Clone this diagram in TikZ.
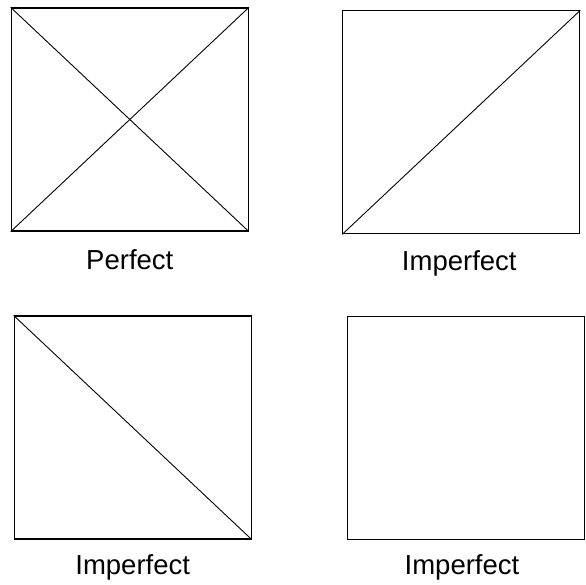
\documentclass[tikz,border=0pt]{standalone}
\usepackage{fontspec}
\setmainfont{Liberation Sans}
\usetikzlibrary{positioning}

\begin{document}
\begin{tikzpicture}[
    x=1pt, y=-1pt,
    sq/.style={draw, line width=1.2pt, inner sep=0pt, minimum width=237pt, minimum height=223pt},
    diag/.style={line width=0.9pt},
    lbl/.style={anchor=base, inner sep=0pt, font=\fontsize{27.5}{33}\selectfont}
]
\useasboundingbox (0,0) rectangle (586,585);
\node[sq] (perf) at (129.8,119.5) {};
\node[sq] (impa) at (461.3,122.3) {};
\node[sq] (impb) at (132.7,427.5) {};
\node[sq] (impc) at (466,428.3) {};

\node[lbl, below=38pt of perf.south, anchor=base] (lperf) {Perfect};
\node[lbl, below=36pt of impa.south, anchor=base, xshift=-2pt] (limpa) {Imperfect};
\node[lbl, below=35pt of impb.south, anchor=base] (limpb) {Imperfect};
\node[lbl, below=34pt of impc.south, anchor=base, xshift=-4pt] (limpc) {Imperfect};

\draw[diag] (perf.north west) -- (perf.south east);
\draw[diag] (perf.south west) -- (perf.north east);
\draw[diag] (impa.south west) -- (impa.north east);
\draw[diag] (impb.north west) -- (impb.south east);
\end{tikzpicture}
\end{document}
